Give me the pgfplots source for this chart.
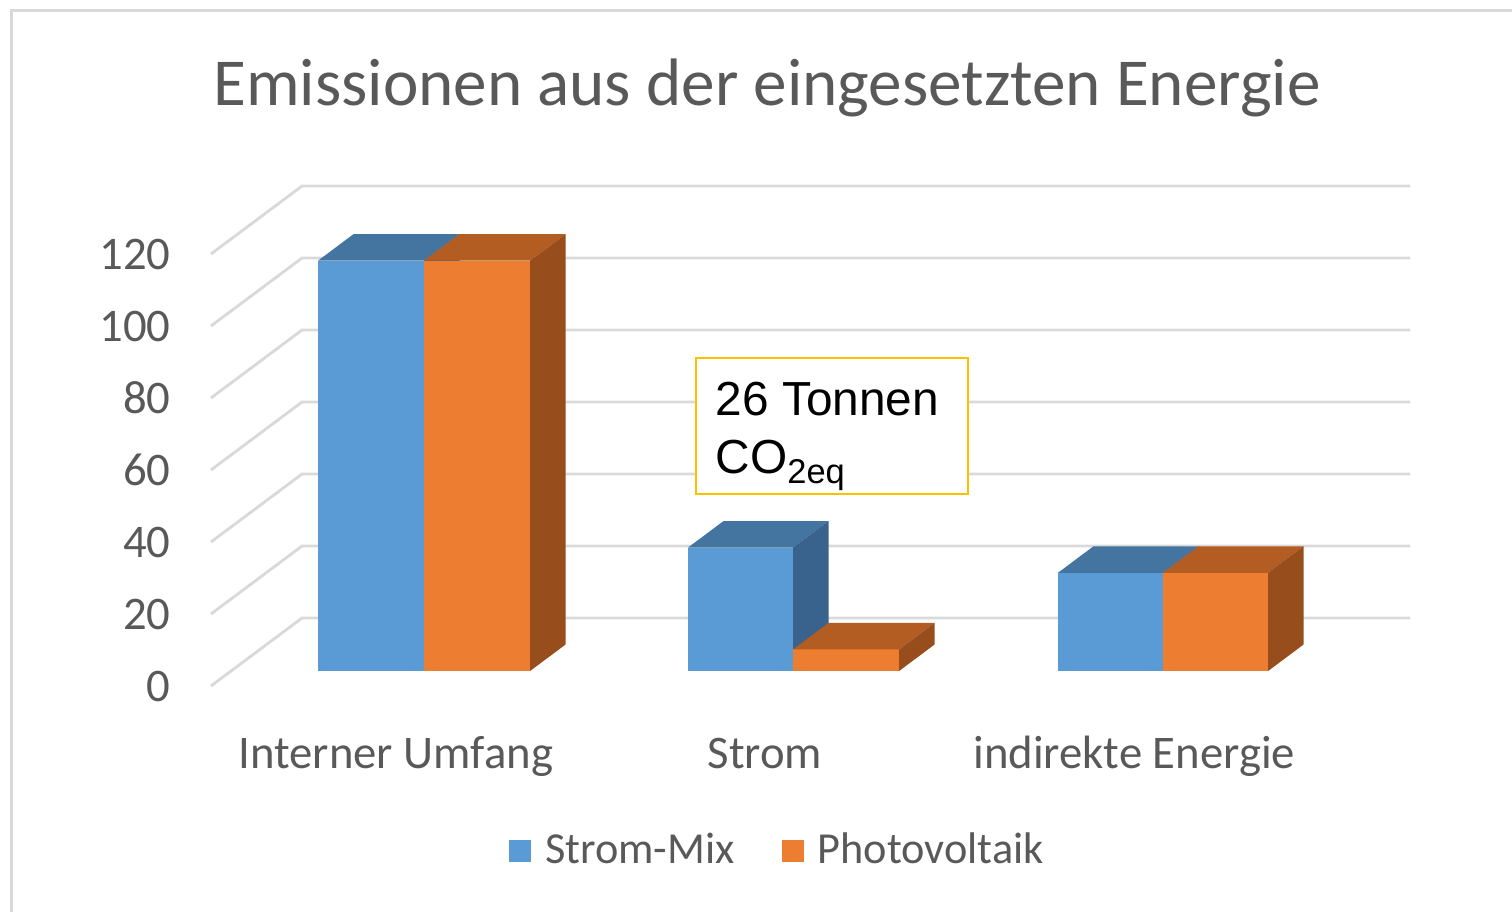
\documentclass[border=0pt]{standalone}
\usepackage{fontspec}
\setmainfont{Carlito}
\newfontfamily\arialfont{Liberation Sans}
\usepackage{pgfplots}
\pgfplotsset{compat=1.18}

\definecolor{mixfront}{HTML}{5B9BD5}
\definecolor{mixtop}{HTML}{4475A0}
\definecolor{mixside}{HTML}{39638C}
\definecolor{pvfront}{HTML}{ED7D31}
\definecolor{pvtop}{HTML}{B45D22}
\definecolor{pvside}{HTML}{984D1C}
\definecolor{gridgray}{HTML}{D9D9D9}
\definecolor{txtgray}{HTML}{595959}
\definecolor{boxyellow}{HTML}{FFC000}

% one 3-D bar: left x, right x, value, front / top / side colour
\newcommand{\cuboid}[6]{%
  \addplot3[fill=#4, draw=none, forget plot] coordinates {(#1,0.22,0) (#2,0.22,0) (#2,0.22,#3) (#1,0.22,#3)};
  \addplot3[fill=#5, draw=none, forget plot] coordinates {(#1,0.22,#3) (#2,0.22,#3) (#2,0.61,#3) (#1,0.61,#3)};
  \addplot3[fill=#6, draw=none, forget plot] coordinates {(#2,0.22,0) (#2,0.61,0) (#2,0.61,#3) (#2,0.22,#3)};
}
\newcommand{\lblfont}{\fontsize{13.3}{16}\selectfont}

\begin{document}
\begin{tikzpicture}
\useasboundingbox (-21.1mm,-22.5mm) rectangle (130.1mm,68.6mm);
\draw[gridgray, line width=0.3mm] (-19.9mm,-30mm) -- (-19.9mm,67.6mm) -- (140mm,67.6mm);

\begin{axis}[
  anchor=origin, at={(0,0)},
  x={(0.1mm,0mm)}, y={(9.1mm,6.8mm)}, z={(0mm,0.36mm)},
  xmin=0, xmax=1108, ymin=0, ymax=1, zmin=0, zmax=120,
  hide axis, clip=false,
  legend image code/.code={\fill[#1] (0mm,-1.1mm) rectangle (2.2mm,1.1mm);},
  legend style={draw=none, fill=none, legend columns=2,
    font=\fontsize{12.6}{15}\selectfont, text=txtgray,
    at={(0.4745,-0.33)}, anchor=center,
    /tikz/every odd column/.append style={column sep=0.7mm},
    /tikz/every even column/.append style={column sep=4mm}},
]
% gridlines on side and back wall, tick labels at the front edge
\pgfplotsinvokeforeach{0,20,40,60,80,100,120}{
  \addplot3[gridgray, line width=0.8pt, forget plot] coordinates {(0,0,#1) (0,1,#1) (1108,1,#1)};
  \node[anchor=east, text=txtgray, font=\lblfont, xshift=-2.8mm] at (axis cs:0,0,#1) {#1};
}

\addlegendimage{fill=mixfront, draw=none}
\addlegendentry{Strom-Mix}
\addlegendimage{fill=pvfront, draw=none}
\addlegendentry{Photovoltaik}

% Interner Umfang
\cuboid{87}{193}{114}{mixfront}{mixtop}{mixside}
\cuboid{193}{299}{114}{pvfront}{pvtop}{pvside}
% Strom
\cuboid{457}{562}{34.3}{mixfront}{mixtop}{mixside}
\cuboid{562}{668}{6}{pvfront}{pvtop}{pvside}
% indirekte Energie
\cuboid{827}{932}{27.3}{mixfront}{mixtop}{mixside}
\cuboid{932}{1037}{27.3}{pvfront}{pvtop}{pvside}

\node[anchor=base, text=txtgray, font=\lblfont, yshift=-8.2mm] at (axis cs:184.7,0,0) {Interner Umfang};
\node[anchor=base, text=txtgray, font=\lblfont, yshift=-8.2mm] at (axis cs:554,0,0) {Strom};
\node[anchor=base, text=txtgray, font=\lblfont, yshift=-8.2mm] at (axis cs:923.3,0,0) {indirekte Energie};
\end{axis}

\node[anchor=base, text=txtgray, font=\fontsize{19.1}{23}\selectfont] at (55.6mm,58.1mm) {Emissionen aus der eingesetzten Energie};

\node[draw=boxyellow, line width=0.2mm, fill=white, minimum width=27.2mm, minimum height=13.6mm,
      anchor=north west, inner sep=0pt] at (48.4mm,32.9mm) {};
\node[anchor=base west, inner sep=0pt, font=\arialfont\fontsize{13.6}{16}\selectfont] at (50.4mm,27.1mm) {26 Tonnen};
\node[anchor=base west, inner sep=0pt, font=\arialfont\fontsize{13.6}{16}\selectfont] at (50.4mm,21.3mm)
  {CO\raisebox{-1.0mm}{\fontsize{9.8}{11}\selectfont 2eq}};
\end{tikzpicture}
\end{document}
